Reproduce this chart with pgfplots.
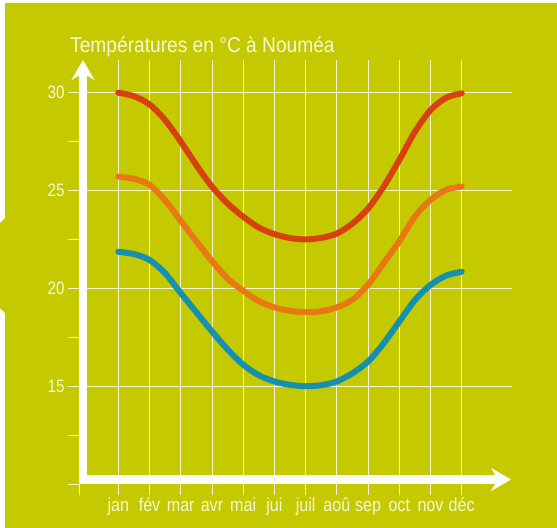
\documentclass[border=0pt]{standalone}
\usepackage{fontspec}
\setmainfont{Liberation Sans}[FakeStretch=0.85]
\newfontfamily\titlefont{Liberation Sans}[FakeStretch=0.895]
\usepackage{pgfplots}
\pgfplotsset{compat=1.18}
\usetikzlibrary{arrows.meta}
\definecolor{olive}{HTML}{C5C900}
\definecolor{cred}{HTML}{D7410F}
\definecolor{corange}{HTML}{E87912}
\definecolor{cblue}{HTML}{1690AF}
\definecolor{ctext}{HTML}{F7F7DC}
\definecolor{cgrid}{HTML}{F6F6D6}
\pgfplotstableread{
m     red    orange  blue
1     30.00  25.71   21.87
1.5   29.82  25.60   21.75
2     29.40  25.29   21.45
2.5   28.60  24.50   20.77
3     27.50  23.45   19.76
3.5   26.30  22.40   18.78
4     25.20  21.40   17.80
4.5   24.34  20.50   16.88
5     23.66  19.88   16.10
5.5   23.11  19.35   15.56
6     22.77  19.03   15.24
6.5   22.57  18.85   15.07
7     22.50  18.78   15.00
7.5   22.58  18.83   15.05
8     22.80  19.03   15.24
8.5   23.31  19.42   15.66
9     24.08  20.19   16.26
9.5   25.20  21.29   17.19
10    26.56  22.40   18.30
10.5  28.00  23.67   19.40
11    29.11  24.52   20.17
11.5  29.74  25.04   20.65
12    29.97  25.20   20.85
}\temps
\begin{document}
\begin{tikzpicture}[x=1bp,y=1bp]
\useasboundingbox (0,0) rectangle (557,-528);
\fill[white] (0,0) rectangle (557,-528);
\fill[olive] (5,-3) -- (557,-3) -- (557,-528) -- (5,-528) -- (5,-313) -- (0,-308) -- (0,-223) -- (5,-218) -- cycle;
\begin{axis}[
 at={(79bp,-484bp)}, anchor=south west,
 scale only axis, width=433bp, height=424bp,
 xmin=-0.259, xmax=13.611, ymin=10, ymax=31.67,
 axis line style={draw=none},
 tick pos=left,
 xtick={1,...,12},
 xticklabels={jan,fév,mar,avr,mai,jui,juil,aoû,sep,oct,nov,déc},
 ytick={15,20,25,30},
 minor ytick={10,12.5,17.5,22.5,27.5},
 minor xtick={-0.259},
 grid=major,
 major grid style={cgrid, line width=0.9bp},
 tick style={cgrid, line width=0.9bp},
 tick align=outside,
 major tick length=11bp, minor tick length=11bp,
 yticklabel style={text=ctext, font=\fontsize{18}{18}\selectfont},
 xticklabel style={text=ctext, font=\fontsize{19}{19}\selectfont, anchor=base, yshift=-16bp},
 /pgf/number format/assume math mode=true,
 clip=false,
]
\addplot[cred, line width=6bp, line cap=round, smooth] table[x=m, y=red] {\temps};
\addplot[corange, line width=6bp, line cap=round, smooth] table[x=m, y=orange] {\temps};
\addplot[cblue, line width=6bp, line cap=round, smooth] table[x=m, y=blue] {\temps};
\end{axis}
\draw[white, line width=8bp, -{Stealth[length=20bp,width=23bp,inset=7bp]}] (83,-484) -- (83,-60);
\draw[white, line width=9bp, -{Stealth[length=20bp,width=23bp,inset=7bp]}] (79,-479.5) -- (511,-479.5);
\node[anchor=base west, text=ctext, font=\titlefont\fontsize{21.5}{21.5}\selectfont, inner sep=0] at (70,-53) {Températures en °C à Nouméa};
\end{tikzpicture}
\end{document}
